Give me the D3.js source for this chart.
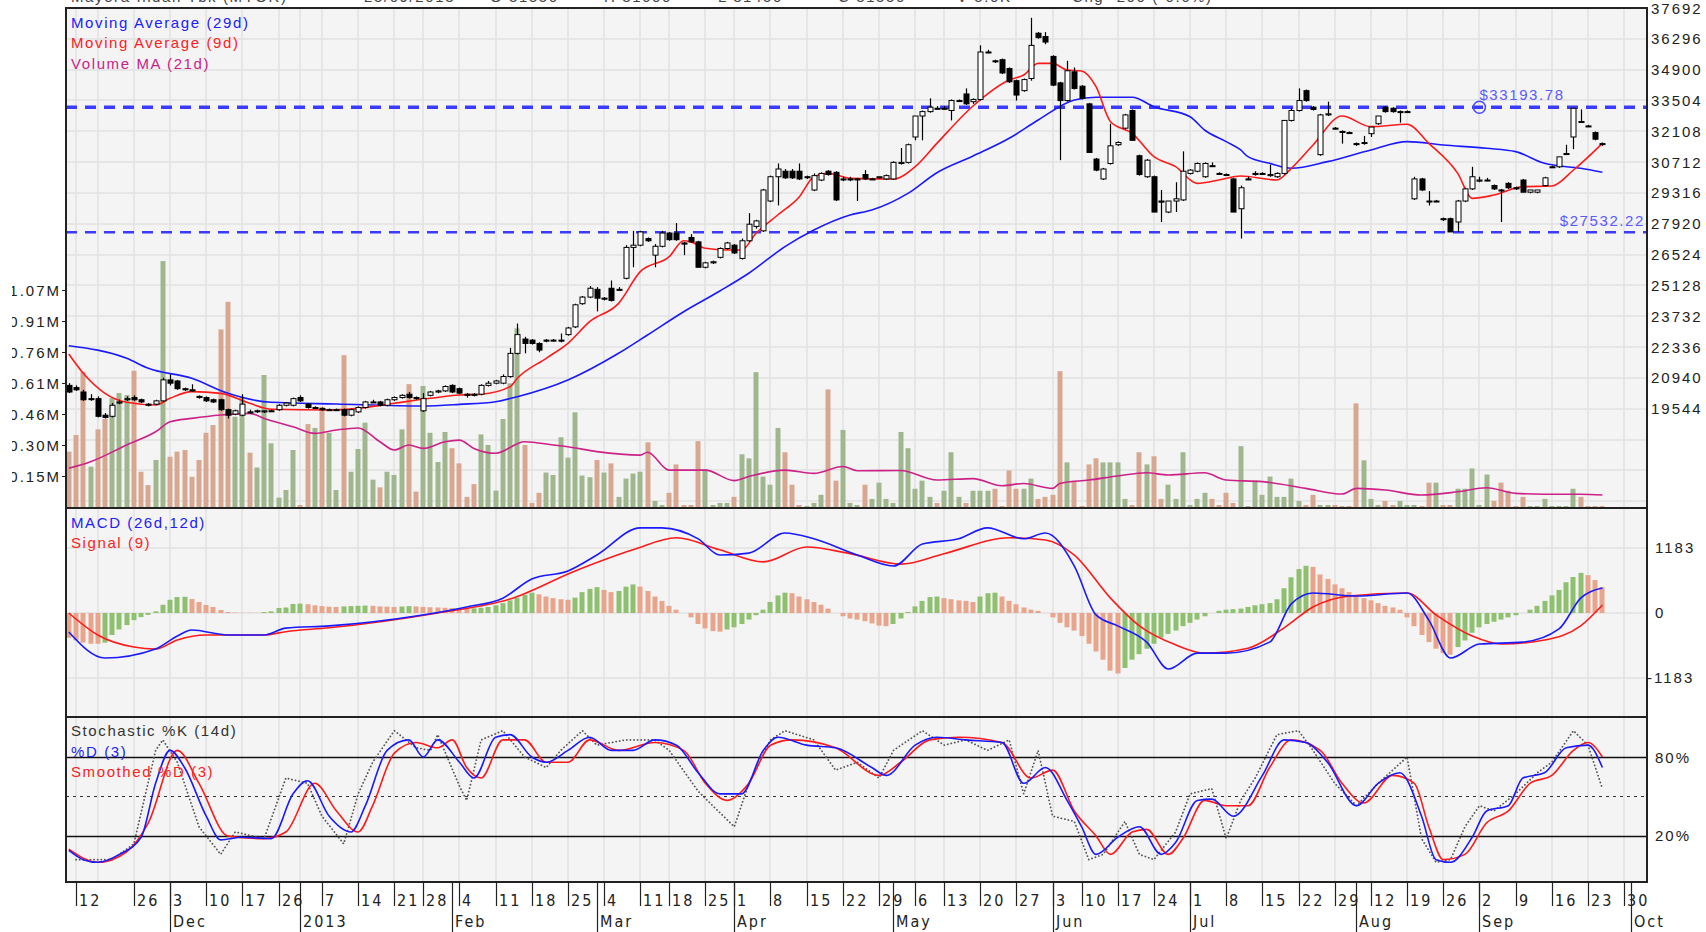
<!DOCTYPE html>
<html>
<head>
<meta charset="utf-8">
<script src="https://cdn.jsdelivr.net/npm/d3@7"></script>
<style>
  body { margin: 0; background: #fff; }
  svg { display: block; }
  text { font-family: "Liberation Sans", Arial, sans-serif; }
  .ax { font-size: 15px; letter-spacing: 2px; fill: #222; }
  .lg { font-size: 15px; letter-spacing: 1.6px; }
  .xl { font-family: "Liberation Sans Narrow", "DejaVu Sans Condensed", sans-serif; font-size: 16px; letter-spacing: 2px; fill: #222; }
</style>
</head>
<body>
<svg id="chart" width="1706" height="932"></svg>
<script>
'use strict';

// ---- data ----
var holidays = ['2012-11-15','2012-11-16','2012-12-24','2012-12-25','2012-12-31','2013-01-01',
  '2013-01-24','2013-03-12','2013-03-29','2013-05-09','2013-06-06',
  '2013-08-05','2013-08-06','2013-08-07','2013-08-08','2013-08-09'];
var skipDayLabels = ['2012-11-19','2013-01-02'];

var open = [
  20600,20500,20300,20000,20000,19250,19200,19800,19950,20050,
  19950,19750,19750,19900,20850,20800,20450,20400,20100,20050,
  19950,19950,19500,19300,19250,19400,19450,19400,19450,19500,
  19700,19700,20050,19750,19600,19550,19500,19500,19500,19250,
  19400,19600,19850,19850,19700,19950,20050,20200,20050,19450,
  20150,20300,20350,20600,20450,20200,20200,20200,20600,20700,
  20700,21000,22050,22700,22650,22500,22650,22650,22650,22900,
  23250,24300,24600,24950,24550,25000,24950,25450,26850,26950,
  27250,26500,26900,27500,27500,27050,27300,27100,25950,26150,
  26400,26800,26950,26350,27150,27800,27600,28950,30050,30300,
  30300,30300,30050,29450,29900,30300,30250,29950,29950,29950,
  30150,29950,30000,29950,29950,30650,30700,31850,32800,33000,
  33150,33150,33050,33500,33800,33450,33550,35700,35300,35350,
  34950,34400,33950,34500,36550,36400,35500,34300,33500,34800,
  34150,33350,30850,29950,30650,31500,32250,33050,31000,30050,
  30050,28950,28450,28950,29000,30200,30300,30050,30550,30200,
  30150,29950,28600,29950,30150,30200,30100,30050,30200,32600,
  33050,33950,33200,31050,32850,32250,32100,32050,31550,31600,
  32000,32450,33200,33150,33000,33000,29050,29950,28950,28950,
  28150,28150,28000,28950,29500,29850,29900,29650,29450,29750,
  29550,29900,29350,29350,29650,30500,30500,31100,31850,32550,
  32350,32050,31550];
var high = [
  20700,20600,20400,20200,20100,19350,19800,19950,20100,20150,
  20000,19800,19950,20950,21100,20850,20500,20650,20150,20100,
  20000,20000,19550,19500,20200,19500,19500,19450,19500,19750,
  19850,20050,20150,19800,19650,19600,19550,19550,19550,19550,
  19650,19900,19950,19900,20000,20100,20200,20300,20100,20250,
  20350,20400,20600,20650,20500,20250,20250,20650,20800,20850,
  21100,22300,23400,22800,22700,22550,22700,22700,22950,23250,
  24300,24650,25100,25050,24600,25350,25050,26950,27600,27600,
  27300,27000,27600,27550,27950,27100,27450,27150,26200,26250,
  26850,27100,27000,27250,28400,28100,29500,30100,30650,30400,
  30400,30650,30100,30200,30250,30350,30300,30050,30050,30000,
  30350,30000,30050,30150,30750,31350,31550,32800,33050,33600,
  33250,33250,33550,33550,34050,33600,36000,35800,35350,35400,
  35000,34450,34500,37250,36600,36600,35550,34350,35300,35000,
  34200,33400,30900,30450,32450,31650,32900,33100,31050,30850,
  30100,29450,28950,29800,31200,30400,30700,30700,30700,30250,
  30200,30000,29650,30050,30300,30250,30600,30250,32600,33150,
  34050,34000,33250,32900,33450,32300,32150,32100,31600,31900,
  32300,32800,33250,33200,33050,33050,30050,30000,29400,29000,
  28200,28200,29000,29550,30500,30050,30000,29700,29500,29800,
  29600,29950,29450,29450,30050,30550,30950,31500,33150,33100,
  32400,32100,31600];
var low = [
  20250,20350,19900,19900,19150,19100,19150,19750,19900,19900,
  19800,19650,19700,19850,20600,20400,20350,20300,20000,19850,
  19800,19450,19100,19250,19200,19300,19350,19350,19400,19450,
  19650,19650,19850,19550,19550,19450,19450,19450,19200,19200,
  19350,19550,19800,19650,19650,19900,20000,20000,19950,19400,
  20100,20250,20300,20250,20200,20050,20100,20150,20550,20650,
  20650,20950,22000,22050,22450,22100,22550,22600,22550,22850,
  23200,24250,24550,23950,24450,24400,24900,25400,25950,26900,
  27100,25950,26850,27150,27150,26500,27050,25950,25900,26100,
  26350,26750,26550,26300,27100,27700,27550,28900,28750,29950,
  29950,29900,29950,29400,29850,30100,28950,29850,29850,28950,
  29900,29900,29950,29900,29900,30600,30650,31700,31700,32950,
  33100,33100,32600,33450,33300,33350,33500,35650,35200,34700,
  34300,33500,33900,34400,36300,36050,34150,30800,33450,34000,
  33550,31150,30300,29900,30600,31450,32200,31700,30100,30000,
  28450,28000,28400,28450,28950,30150,30250,30000,30500,30150,
  30100,28450,27250,29900,30100,30150,30050,30000,30150,32550,
  33000,33450,33050,31000,32800,32200,31550,32000,31450,31500,
  31850,32400,32950,32950,32500,32950,29000,29400,28750,28900,
  28050,27550,27550,28900,29450,29800,29850,29450,28000,29500,
  29450,29350,29300,29300,29600,30450,30450,31050,31300,32500,
  32300,31700,31450];
var close = [
  20300,20400,19950,20000,19200,19150,19700,19850,20000,19950,
  19850,19700,19900,20850,20700,20450,20400,20350,20050,19900,
  19850,19500,19250,19450,19750,19400,19450,19450,19450,19700,
  19800,20000,19900,19600,19600,19500,19500,19500,19250,19500,
  19600,19850,19850,19700,19950,20050,20150,20050,20000,20000,
  20300,20350,20550,20300,20250,20150,20150,20600,20700,20800,
  21000,22050,22900,22500,22500,22200,22650,22650,22650,23200,
  24250,24600,25000,24550,24550,24450,24950,26850,26950,27550,
  27150,26900,27500,27200,27200,27000,27100,25950,26150,26200,
  26800,27050,26600,27150,27900,28050,29450,30050,30400,30000,
  30000,29950,30050,30100,30200,30150,29000,29950,29950,29950,
  29950,29950,30050,30100,30700,30700,31500,32800,33000,33200,
  33150,33150,33500,33500,33350,33550,35700,35700,35300,34750,
  34350,33750,34450,36000,36350,36150,34200,33500,34850,34050,
  33600,31150,30350,30400,31450,31600,32850,31700,30150,30800,
  28450,28900,28950,29050,30300,30350,30650,30650,30550,30200,
  30150,28450,29550,29950,30200,30200,30150,30200,32600,33050,
  33500,33500,33100,32850,32900,32250,32100,32050,31550,31600,
  32300,32800,33000,33000,33000,33000,29950,29450,28950,28950,
  28150,27550,28950,29500,30050,29900,29900,29500,29450,29550,
  29500,29350,29450,29450,30000,30500,30950,31100,33150,32550,
  32350,31750,31550];
// volume, millions of shares
var volume = [
  0.273,0.355,0.667,0.199,0.383,0.434,0.537,0.562,0.552,0.672,
  0.174,0.108,0.232,1.213,0.248,0.273,0.281,0.149,0.232,0.366,
  0.404,0.876,1.012,0.445,0.544,0.268,0.195,0.651,0.314,0.046,
  0.084,0.281,0.010,0.409,0.390,0.494,0.366,0.084,0.749,0.174,
  0.286,0.416,0.135,0.097,0.174,0.158,0.383,0.606,0.076,0.597,
  0.366,0.222,0.370,0.290,0.215,0.050,0.113,0.358,0.306,0.081,
  0.434,0.610,0.881,0.306,0.020,0.070,0.170,0.158,0.344,0.243,
  0.467,0.155,0.147,0.232,0.170,0.215,0.050,0.140,0.165,0.174,
  0.319,0.030,0.010,0.070,0.210,0.010,0.010,0.325,0.186,0.010,
  0.020,0.020,0.050,0.260,0.240,0.665,0.150,0.110,0.390,0.270,
  0.110,0.010,0.005,0.020,0.060,0.580,0.130,0.380,0.020,0.010,
  0.110,0.040,0.120,0.040,0.020,0.370,0.290,0.090,0.130,0.050,
  0.020,0.080,0.270,0.050,0.020,0.080,0.080,0.080,0.090,0.005,
  0.180,0.090,0.090,0.140,0.040,0.050,0.060,0.670,0.220,0.130,
  0.005,0.210,0.240,0.220,0.220,0.220,0.040,0.010,0.270,0.210,
  0.250,0.040,0.110,0.040,0.270,0.010,0.040,0.070,0.040,0.010,
  0.070,0.020,0.300,0.005,0.130,0.060,0.150,0.050,0.050,0.140,
  0.030,0.010,0.060,0.010,0.010,0.010,0.005,0.005,0.511,0.230,
  0.040,0.010,0.030,0.010,0.030,0.010,0.010,0.005,0.120,0.120,
  0.010,0.010,0.090,0.090,0.190,0.010,0.160,0.030,0.120,0.080,
  0.005,0.050,0.005,0.005,0.040,0.005,0.005,0.005,0.090,0.050,
  0.005,0.005,0.005];

// indicator lines, [trading day index, value]
var ma29 = [[0,22398],[8,21826],[11,21374],[17,20921],[22,20242],[28,19834],[37,19757],[49,19667],
  [54,19740],[59,19861],[62,20087],[69,20844],[76,22053],[80,22883],[85,23937],[90,24875],[94,25677],
  [99,26885],[103,27638],[108,28317],[111,28543],[116,29298],[120,30233],[125,30989],[130,31790],
  [134,32620],[139,33525],[142,33648],[147,33648],[150,33222],[155,32769],[157,32167],[160,31639],
  [162,31261],[163,30959],[166,30657],[169,30431],[174,30733],[180,31262],[185,31639],[190,31488],
  [196,31337],[200,31186],[204,30657],[209,30431],[212,30250]];
var ma9 = [[0,22022],[2,21147],[5,20242],[8,19834],[12,19712],[14,20014],[17,20316],[21,20240],
  [25,19788],[28,19516],[36,19485],[40,19561],[45,19788],[50,20014],[54,20165],[57,20200],[61,20542],
  [62,20921],[66,21827],[69,22506],[72,23485],[76,24315],[79,25750],[83,26429],[85,27154],[86,27100],
  [88,26809],[91,26732],[93,26732],[95,27488],[98,28317],[101,29147],[103,30053],[105,30204],[108,29977],
  [114,29946],[117,30505],[120,31561],[125,33254],[130,34431],[132,34657],[134,35185],[136,35185],
  [138,34884],[140,34839],[142,34128],[144,32543],[147,32015],[150,30957],[153,30505],[156,29751],
  [159,29902],[162,30083],[167,29902],[169,30431],[172,31488],[176,32801],[180,32318],[185,32424],
  [188,31561],[192,30204],[194,29072],[197,29223],[201,29600],[205,29630],[208,30355],[212,31561]];
var volMa21 = [[0,0.191],[3,0.223],[8,0.306],[12,0.371],[14,0.42],[17,0.437],[21,0.454],[25,0.462],
  [27,0.437],[31,0.396],[34,0.363],[37,0.38],[40,0.39],[43,0.322],[45,0.281],[47,0.306],[49,0.289],
  [52,0.322],[54,0.33],[56,0.289],[59,0.265],[63,0.322],[67,0.306],[69,0.297],[73,0.273],[79,0.256],
  [80,0.27],[83,0.182],[88,0.182],[92,0.13],[94,0.15],[99,0.182],[103,0.166],[107,0.2],[109,0.179],
  [115,0.18],[120,0.133],[125,0.14],[129,0.105],[132,0.116],[136,0.092],[137,0.116],[141,0.133],
  [145,0.153],[149,0.169],[152,0.158],[157,0.169],[160,0.133],[165,0.125],[171,0.092],[176,0.064],
  [178,0.092],[182,0.084],[187,0.059],[192,0.075],[196,0.095],[200,0.067],[204,0.063],[209,0.063],[212,0.059]];

var macdLine = [[0,-345],[5,-820],[12,-655],[15,-420],[17,-310],[22,-400],[27,-400],[30,-275],[36,-235],
  [48,-55],[55,110],[60,270],[64,620],[69,765],[73,1055],[79,1550],[82,1550],[87,1350],[90,1055],
  [94,1090],[99,1455],[103,1350],[109,1055],[114,855],[118,1255],[123,1350],[127,1550],[132,1350],
  [135,1455],[139,855],[142,-35],[145,-235],[149,-530],[152,-1020],[156,-730],[160,-730],[166,-530],
  [169,165],[172,365],[178,310],[185,365],[188,-130],[191,-820],[195,-565],[201,-530],[206,-290],
  [209,270],[212,455]];
var signalLine = [[0,0],[4,-400],[9,-620],[12,-655],[15,-490],[19,-400],[27,-400],[30,-340],[36,-270],
  [51,0],[61,255],[70,765],[78,1150],[84,1370],[90,1150],[96,930],[102,1200],[108,1080],[115,890],
  [121,1080],[130,1370],[135,1330],[139,1055],[144,270],[148,-235],[153,-580],[157,-730],[163,-640],
  [168,-270],[172,110],[177,310],[185,365],[189,-35],[194,-420],[198,-565],[204,-490],[209,-235],[212,145]];
var macdHist = [
  -450,-500,-540,-560,-560,-540,-400,-300,-220,-130,
  -75,-35,30,150,240,290,295,255,200,146,
  110,55,18,8,5,5,3,18,30,91,
  100,164,170,160,140,125,115,110,120,125,
  130,135,130,120,115,110,118,125,120,110,
  105,100,95,90,85,80,85,95,110,140,
  180,230,280,330,370,340,300,270,250,240,
  280,380,440,470,420,380,400,480,520,480,
  400,300,220,130,60,0,-80,-200,-280,-330,
  -340,-300,-260,-200,-120,-40,60,200,320,370,
  360,300,250,200,150,80,0,-60,-100,-120,
  -150,-190,-230,-240,-200,-100,20,120,220,290,
  300,270,250,230,220,200,300,360,370,300,
  220,160,100,60,40,0,-80,-180,-260,-320,
  -420,-560,-700,-850,-1050,-1100,-1000,-850,-750,-650,
  -560,-450,-380,-320,-240,-180,-120,-60,0,40,
  60,70,80,110,140,160,180,250,450,650,
  800,860,840,700,620,520,450,380,320,270,
  230,180,130,100,60,-80,-240,-400,-530,-650,
  -730,-760,-620,-500,-360,-260,-200,-160,-120,-80,
  -40,0,60,130,220,320,420,560,655,730,
  690,600,470];

var stochK = [[1,2],[6,2],[9,14],[12,85],[13,93],[15,76],[18,27],[21,6],[23,23],[27,18],[30,64],[33,60],
  [35,35],[38,14],[40,52],[42,76],[45,100],[48,87],[50,85],[51,97],[54,58],[55,47],[57,93],[60,100],
  [63,80],[66,72],[68,85],[71,100],[73,89],[77,93],[81,93],[83,85],[87,54],[89,43],[92,27],[94,60],
  [97,93],[99,100],[103,93],[106,70],[109,76],[112,64],[114,85],[118,100],[121,89],[124,93],[127,85],
  [130,93],[132,52],[134,85],[136,35],[139,31],[141,2],[143,6],[146,31],[148,6],[150,2],[153,23],
  [155,52],[158,56],[160,18],[162,47],[164,64],[167,97],[170,100],[172,85],[175,60],[178,43],[181,60],
  [185,80],[187,18],[189,0],[191,2],[193,27],[195,43],[197,39],[200,52],[203,68],[205,76],[208,100],
  [210,89],[212,56]];
var stochD = [[0,9],[2,2],[4,0],[7,6],[10,19],[12,60],[14,85],[16,72],[19,35],[21,17],[24,19],[28,18],
  [31,52],[33,62],[36,35],[39,23],[41,43],[44,85],[47,93],[49,80],[51,93],[54,76],[56,64],[59,95],
  [61,97],[64,80],[66,76],[69,85],[72,95],[75,85],[78,85],[81,93],[84,89],[87,68],[90,52],[93,52],
  [96,85],[98,95],[102,89],[106,87],[111,72],[113,66],[117,89],[120,95],[124,93],[129,91],[132,60],
  [135,72],[138,47],[140,27],[142,6],[145,19],[148,27],[151,6],[153,15],[156,47],[158,48],[161,35],
  [165,66],[168,93],[171,91],[174,76],[178,43],[181,60],[184,68],[187,35],[189,2],[191,0],[194,19],
  [196,39],[199,43],[201,64],[204,68],[207,87],[210,89],[212,72]];
var stochSD = [[0,10],[4,0],[8,8],[11,30],[15,85],[18,60],[22,20],[27,18],[30,23],[34,60],[37,39],
  [40,23],[42,43],[45,83],[48,91],[51,87],[53,93],[55,72],[57,64],[60,93],[63,93],[66,76],[69,76],
  [72,93],[76,85],[81,91],[85,85],[88,60],[91,47],[94,60],[97,89],[100,93],[106,87],[112,66],[115,76],
  [119,93],[123,95],[129,91],[133,64],[136,70],[139,39],[142,20],[144,6],[147,23],[149,25],[152,6],
  [154,18],[157,47],[160,43],[163,43],[166,72],[169,93],[173,85],[176,60],[179,45],[183,66],[186,60],
  [188,27],[190,2],[193,6],[196,30],[199,39],[202,60],[205,66],[208,85],[210,91],[212,80]];

var priceTicks = [37692,36296,34900,33504,32108,30712,29316,27920,26524,25128,23732,22336,20940,19544];
var priceGrid = priceTicks.concat([18148,16752,15356]);
var volTicks = [0.1529,0.3058,0.4587,0.6116,0.7645,0.9174,1.0703];
var volLabels = ['0.15M','0.30M','0.46M','0.61M','0.76M','0.91M','1.07M'];
var macdTicks = [1183, 0, -1183];
var stochTicks = [80, 20];
var resistance = 33193.78, support = 27532.22;
var titleParts = ['Mayora Indah Tbk (MYOR)','25/09/2013','O 31550','H 31600','L 31450','C 31550','V 5.0K','Chg -200 (-0.6%)'];

// ---- calendar of trading days ----
var fmt = d3.timeFormat('%Y-%m-%d');
var days = d3.timeDay.range(new Date(2012, 10, 9), new Date(2013, 9, 5))
  .filter(function(d){ return d.getDay() > 0 && d.getDay() < 6 && holidays.indexOf(fmt(d)) < 0; });

// ---- layout ----
var plotL = 66, plotR = 1647;
var mainTop = 8, mainBot = 508, macdBot = 717, stochBot = 882;

var svg = d3.select('#chart');
var x = d3.scaleLinear().domain([0, 215]).range([68.8, 1624.1]);
var yP = d3.scaleLinear().domain([15047, 37692]).range([mainBot, mainTop]);
var yV = d3.scaleLinear().domain([0, 1.0703]).range([507, 290]);
var yM = d3.scaleLinear().domain([-1893, 1911]).range([macdBot, mainBot]);
var yS = d3.scaleLinear().domain([-15, 110.4]).range([stochBot, macdBot]);

var idx = d3.range(close.length);
var weekStarts = d3.range(1, days.length).filter(function(i){
  return +d3.timeMonday.floor(days[i]) !== +d3.timeMonday.floor(days[i-1]);
});
var monthStarts = d3.range(1, days.length).filter(function(i){
  return days[i].getMonth() !== days[i-1].getMonth();
});

// title, mostly cut off by the top edge (as in the source image)
var titleX = [71, 364, 490, 604, 718, 838, 957, 1072];
svg.append('g').selectAll('text').data(titleParts).enter().append('text')
  .attr('x', function(d, i){ return titleX[i]; }).attr('y', 2)
  .attr('class', 'lg').attr('fill', '#444').text(function(d){ return d; });

// panel backgrounds
[[mainTop, mainBot], [mainBot, macdBot], [macdBot, stochBot]].forEach(function(p, k){
  svg.append('rect').attr('x', plotL).attr('y', p[0]).attr('width', plotR - plotL).attr('height', p[1] - p[0])
    .attr('fill', '#f4f4f4');
  svg.append('clipPath').attr('id', 'clip' + k).append('rect')
    .attr('x', plotL).attr('y', p[0]).attr('width', plotR - plotL).attr('height', p[1] - p[0]);
});

// vertical grid
var grid = svg.append('g').attr('stroke', '#e2e2e2').attr('stroke-width', 1.5);
grid.selectAll('line').data(weekStarts).enter().append('line')
  .attr('x1', function(i){ return Math.round(x(i)); }).attr('x2', function(i){ return Math.round(x(i)); })
  .attr('y1', mainTop).attr('y2', stochBot);
// horizontal grid
grid.selectAll('.hp').data(priceGrid).enter().append('line').attr('class', 'hp')
  .attr('x1', plotL).attr('x2', plotR)
  .attr('y1', function(d){ return Math.round(yP(d)); }).attr('y2', function(d){ return Math.round(yP(d)); });
grid.selectAll('.hm').data(macdTicks).enter().append('line').attr('class', 'hm')
  .attr('x1', plotL).attr('x2', plotR)
  .attr('y1', function(d){ return Math.round(yM(d)); }).attr('y2', function(d){ return Math.round(yM(d)); });

// ---- main panel ----
var main = svg.append('g').attr('clip-path', 'url(#clip0)');

function isUp(i) {
  if (close[i] !== open[i]) return close[i] > open[i];
  return i === 0 ? true : close[i] >= close[i-1];
}

main.append('g').selectAll('rect').data(idx).enter().append('rect')
  .attr('x', function(i){ return Math.round(x(i)) - 2.5; })
  .attr('width', 5)
  .attr('y', function(i){ return yV(volume[i]); })
  .attr('height', function(i){ return 507 - yV(volume[i]); })
  .attr('fill', function(i){ return isUp(i) ? '#9fb68f' : '#d8a792'; });

var lineGen = function(ys){
  return d3.line().x(function(d){ return x(d[0]); }).y(function(d){ return ys(d[1]); }).curve(d3.curveMonotoneX);
};

main.append('path').datum(volMa21).attr('d', lineGen(yV))
  .attr('fill', 'none').attr('stroke', '#cc2288').attr('stroke-width', 1.6);

// support / resistance
main.append('line').attr('x1', plotL).attr('x2', plotR)
  .attr('y1', yP(resistance)).attr('y2', yP(resistance))
  .attr('stroke', '#3b3bff').attr('stroke-width', 3.5).attr('stroke-dasharray', '11,8');
main.append('line').attr('x1', plotL).attr('x2', plotR)
  .attr('y1', yP(support)).attr('y2', yP(support))
  .attr('stroke', '#3b3bff').attr('stroke-width', 2.5).attr('stroke-dasharray', '11,8');

main.append('path').datum(ma29).attr('d', lineGen(yP))
  .attr('fill', 'none').attr('stroke', '#1a1aff').attr('stroke-width', 1.6);
main.append('path').datum(ma9).attr('d', lineGen(yP))
  .attr('fill', 'none').attr('stroke', '#ff1a1a').attr('stroke-width', 1.6);

// candles
var cg = main.append('g');
cg.selectAll('line').data(idx).enter().append('line')
  .attr('x1', function(i){ return Math.round(x(i)) + 0.5; })
  .attr('x2', function(i){ return Math.round(x(i)) + 0.5; })
  .attr('y1', function(i){ return yP(high[i]); })
  .attr('y2', function(i){ return yP(low[i]); })
  .attr('stroke', '#000').attr('stroke-width', 1.2);
cg.selectAll('rect').data(idx).enter().append('rect')
  .attr('x', function(i){ return Math.round(x(i)) - 2; })
  .attr('width', 5)
  .attr('y', function(i){ return yP(Math.max(open[i], close[i])); })
  .attr('height', function(i){ return Math.max(1, Math.abs(yP(open[i]) - yP(close[i]))); })
  .attr('fill', function(i){ return close[i] > open[i] ? '#fff' : '#000'; })
  .attr('stroke', '#000').attr('stroke-width', 1);

// resistance marker and labels
svg.append('circle').attr('cx', x(195)).attr('cy', yP(resistance)).attr('r', 6)
  .attr('fill', 'none').attr('stroke', '#4a4aff').attr('stroke-width', 1.5);
svg.append('text').attr('class', 'lg').attr('x', x(195)).attr('y', 100)
  .attr('fill', '#5a5aff').text('$' + resistance.toFixed(2));
svg.append('text').attr('class', 'lg').attr('x', plotR - 2).attr('y', yP(support) - 6)
  .attr('text-anchor', 'end').attr('fill', '#5a5aff').text('$' + support.toFixed(2));

// legend
var legMain = [['Moving Average (29d)', '#2020ff'], ['Moving Average (9d)', '#ff2020'], ['Volume MA (21d)', '#cc2288']];
svg.append('g').selectAll('text').data(legMain).enter().append('text').attr('class', 'lg')
  .attr('x', 71).attr('y', function(d, i){ return 28 + i * 20.3; })
  .attr('fill', function(d){ return d[1]; }).text(function(d){ return d[0]; });

// price axis (right)
svg.append('g').selectAll('text').data(priceTicks).enter().append('text').attr('class', 'ax')
  .attr('x', 1651).attr('y', function(d){ return yP(d) + 5.5; }).text(function(d){ return d; });

// volume axis (left)
svg.append('clipPath').attr('id', 'clipL').append('rect').attr('x', 12).attr('y', 0).attr('width', 60).attr('height', 932);
var va = svg.append('g').attr('clip-path', 'url(#clipL)');
va.selectAll('text').data(volTicks).enter().append('text').attr('class', 'ax')
  .attr('x', 61).attr('text-anchor', 'end').attr('y', function(d){ return yV(d) + 5.5; })
  .text(function(d, i){ return volLabels[i]; });
va.selectAll('line').data(volTicks).enter().append('line')
  .attr('x1', 62).attr('x2', 66)
  .attr('y1', function(d){ return Math.round(yV(d)) + 0.5; }).attr('y2', function(d){ return Math.round(yV(d)) + 0.5; })
  .attr('stroke', '#222');

// ---- MACD panel ----
var mp = svg.append('g').attr('clip-path', 'url(#clip1)');
mp.append('g').selectAll('rect').data(idx).enter().append('rect')
  .attr('x', function(i){ return Math.round(x(i)) - 2.5; }).attr('width', 5)
  .attr('y', function(i){ return Math.min(yM(0), yM(macdHist[i])); })
  .attr('height', function(i){ return Math.abs(yM(macdHist[i]) - yM(0)); })
  .attr('fill', function(i){ return i > 0 && macdHist[i] > macdHist[i-1] ? '#8fc06f' : '#e8a58c'; });
mp.append('path').datum(signalLine).attr('d', lineGen(yM))
  .attr('fill', 'none').attr('stroke', '#ff1a1a').attr('stroke-width', 1.6);
mp.append('path').datum(macdLine).attr('d', lineGen(yM))
  .attr('fill', 'none').attr('stroke', '#1a1aff').attr('stroke-width', 1.6);

svg.append('g').selectAll('text').data([['MACD (26d,12d)', '#2020ff'], ['Signal (9)', '#ff2020']])
  .enter().append('text').attr('class', 'lg')
  .attr('x', 71).attr('y', function(d, i){ return 528 + i * 20; })
  .attr('fill', function(d){ return d[1]; }).text(function(d){ return d[0]; });
svg.append('g').selectAll('text').data(macdTicks).enter().append('text').attr('class', 'ax')
  .attr('x', function(d){ return d < 0 ? 1647 : 1655; }).attr('y', function(d){ return yM(d) + 5.5; })
  .text(function(d){ return d; });

// ---- stochastic panel ----
var sp = svg.append('g').attr('clip-path', 'url(#clip2)');
sp.selectAll('.lvl').data(stochTicks).enter().append('line').attr('class', 'lvl')
  .attr('x1', plotL).attr('x2', plotR)
  .attr('y1', function(d){ return Math.round(yS(d)) + 0.5; }).attr('y2', function(d){ return Math.round(yS(d)) + 0.5; })
  .attr('stroke', '#111').attr('stroke-width', 1.3);
sp.append('line').attr('x1', plotL).attr('x2', plotR)
  .attr('y1', Math.round(yS(50)) + 0.5).attr('y2', Math.round(yS(50)) + 0.5)
  .attr('stroke', '#333').attr('stroke-dasharray', '3,4');
sp.append('path').datum(stochK).attr('d', lineGen(yS).curve(d3.curveLinear))
  .attr('fill', 'none').attr('stroke', '#555').attr('stroke-width', 1.8)
  .attr('stroke-dasharray', '0.1,3.5').attr('stroke-linecap', 'round');
sp.append('path').datum(stochSD).attr('d', lineGen(yS))
  .attr('fill', 'none').attr('stroke', '#ff1a1a').attr('stroke-width', 1.6);
sp.append('path').datum(stochD).attr('d', lineGen(yS))
  .attr('fill', 'none').attr('stroke', '#1a1aff').attr('stroke-width', 1.6);

svg.append('g').selectAll('text')
  .data([['Stochastic %K (14d)', '#333'], ['%D (3)', '#2020ff'], ['Smoothed %D (3)', '#ff2020']])
  .enter().append('text').attr('class', 'lg')
  .attr('x', 71).attr('y', function(d, i){ return 736 + i * 20.5; })
  .attr('fill', function(d){ return d[1]; }).text(function(d){ return d[0]; });
svg.append('g').selectAll('text').data(stochTicks).enter().append('text').attr('class', 'ax')
  .attr('x', 1655).attr('y', function(d){ return yS(d) + 5.5; })
  .text(function(d){ return d + '%'; });

// ---- panel frames ----
var fr = svg.append('g').attr('fill', 'none').attr('stroke', '#222').attr('stroke-width', 2);
fr.append('rect').attr('x', plotL).attr('y', mainTop).attr('width', plotR - plotL).attr('height', stochBot - mainTop);
fr.append('line').attr('x1', plotL).attr('x2', plotR).attr('y1', mainBot).attr('y2', mainBot);
fr.append('line').attr('x1', plotL).attr('x2', plotR).attr('y1', macdBot).attr('y2', macdBot);

// ---- date axis ----
var xa = svg.append('g');
var dayTicks = weekStarts.filter(function(i){ return x(i) < plotR && skipDayLabels.indexOf(fmt(days[i])) < 0; });
xa.selectAll('.dt').data(dayTicks).enter().append('line').attr('class', 'dt')
  .attr('x1', function(i){ return Math.round(x(i)) + 0.5; }).attr('x2', function(i){ return Math.round(x(i)) + 0.5; })
  .attr('y1', stochBot).attr('y2', 906).attr('stroke', '#222').attr('stroke-width', 1.2);
xa.selectAll('.dl').data(dayTicks).enter().append('text').attr('class', 'xl')
  .attr('x', function(i){ return Math.round(x(i)) + 3; }).attr('y', 906)
  .text(function(i){ return days[i].getDate(); });
var mTicks = monthStarts.filter(function(i){ return x(i) < plotR; });
xa.selectAll('.mt').data(mTicks).enter().append('line').attr('class', 'mt')
  .attr('x1', function(i){ return Math.round(x(i)) + 0.5; }).attr('x2', function(i){ return Math.round(x(i)) + 0.5; })
  .attr('y1', stochBot).attr('y2', 932).attr('stroke', '#222').attr('stroke-width', 1.2);
xa.selectAll('.ml').data(mTicks).enter().append('text').attr('class', 'xl')
  .attr('x', function(i){ return Math.round(x(i)) + 3; }).attr('y', 927)
  .text(function(i){ return days[i].getMonth() === 0 ? d3.timeFormat('%Y')(days[i]) : d3.timeFormat('%b')(days[i]); });
</script>
</body>
</html>
